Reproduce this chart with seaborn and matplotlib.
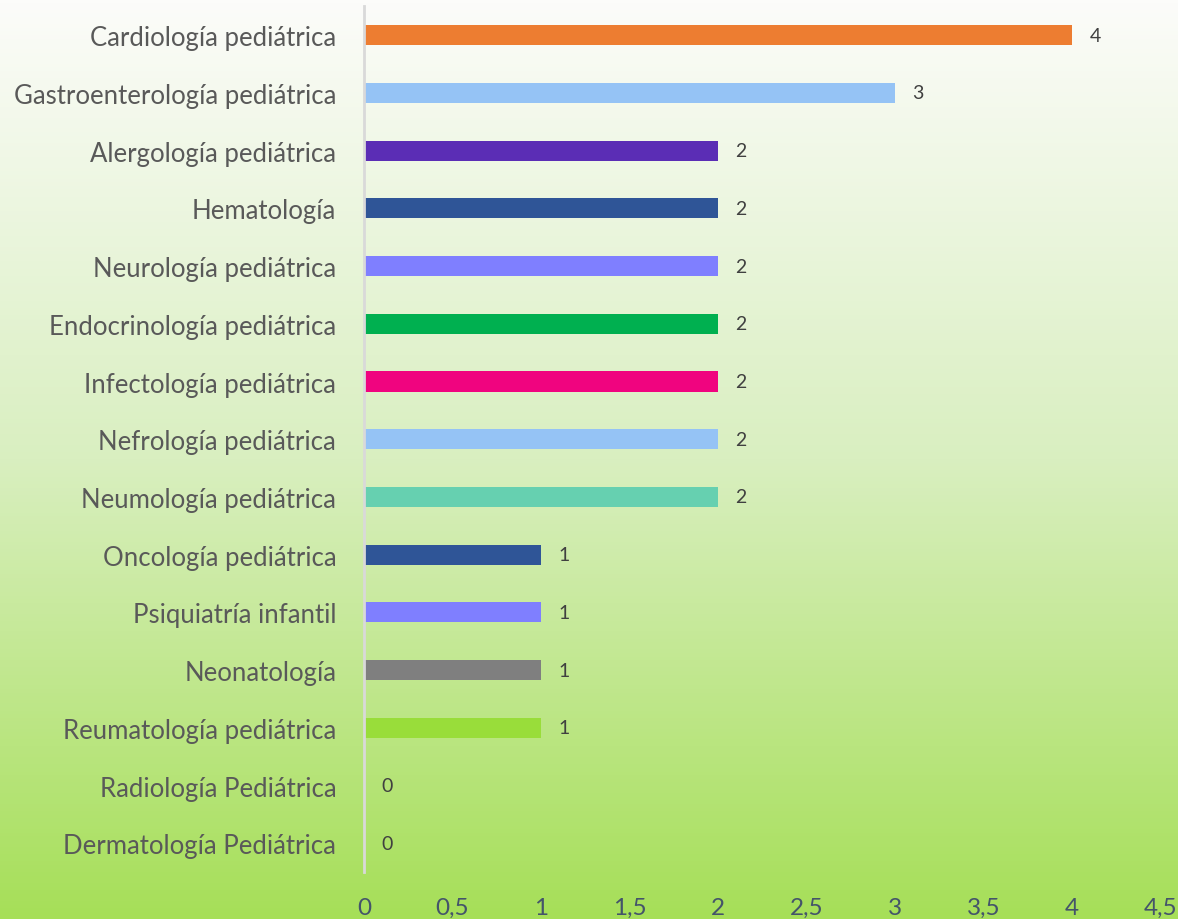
import numpy as np
import pandas as pd
import seaborn as sns
import matplotlib.pyplot as plt
from matplotlib.colors import LinearSegmentedColormap

especialidades = [
    'Cardiología pediátrica', 'Gastroenterología pediátrica', 'Alergología pediátrica',
    'Hematología', 'Neurología pediátrica', 'Endocrinología pediátrica',
    'Infectología pediátrica', 'Nefrología pediátrica', 'Neumología pediátrica',
    'Oncología pediátrica', 'Psiquiatría infantil', 'Neonatología',
    'Reumatología pediátrica', 'Radiología Pediátrica', 'Dermatología Pediátrica',
]
valores = [4, 3, 2, 2, 2, 2, 2, 2, 2, 1, 1, 1, 1, 0, 0]
colores = ['#ED7D31', '#95C3F5', '#5B2DB5', '#2F5597', '#7F7FFF', '#00B050',
           '#F0047F', '#95C3F5', '#66D0B0', '#2F5597', '#7F7FFF', '#7F7F7F',
           '#99DD3A', '#99DD3A', '#99DD3A']
ticks = [0, 0.5, 1, 1.5, 2, 2.5, 3, 3.5, 4, 4.5]

df = pd.DataFrame({'especialidad': especialidades, 'valor': valores})

sns.set_style('white')
plt.rcParams['font.family'] = ['Lato', 'DejaVu Sans']

fig = plt.figure(figsize=(11.78, 9.2), dpi=100)

# fondo degradado blanco -> verde
bg = fig.add_axes([0, 0, 1, 1], zorder=0)
cmap = LinearSegmentedColormap.from_list('fondo', ['#FCFCFA', '#D9EFC0', '#A6DF58'])
grad = np.linspace(0, 1, 256).reshape(-1, 1)
bg.imshow(grad, aspect='auto', cmap=cmap, extent=[0, 1, 0, 1], origin='upper')
bg.axis('off')

ax = fig.add_axes([0.309, 0.051, 0.676, 0.941], zorder=1)
ax.patch.set_alpha(0)
sns.barplot(data=df, x='valor', y='especialidad', hue='especialidad',
            palette=colores, legend=False, width=0.35, ax=ax, saturation=1,
            linewidth=0)

for i, v in enumerate(valores):
    ax.text(v + 0.1, i, str(v), va='center', ha='left', fontsize=14, color='#404040')

ax.set_xlim(0, 4.5)
ax.set_ylim(len(valores) - 0.5, -0.5)
ax.set_xticks(ticks)
ax.set_xticklabels([f'{t:g}'.replace('.', ',') for t in ticks], fontsize=17.5, color='#44546A')
ax.tick_params(axis='x', length=0, pad=18)
ax.tick_params(axis='y', length=0, pad=20, labelsize=18.5, labelcolor='#595959')
ax.set_xlabel('')
ax.set_ylabel('')
for s in ['top', 'right', 'bottom']:
    ax.spines[s].set_visible(False)
ax.spines['left'].set_color('#D9D9D9')
ax.spines['left'].set_linewidth(2)

fig.savefig('out.png', dpi=100)
